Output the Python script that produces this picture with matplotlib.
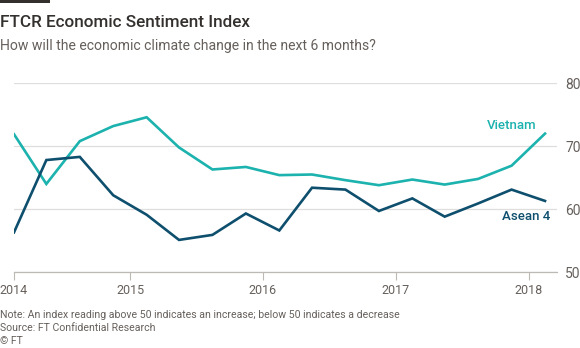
import matplotlib
matplotlib.use("Agg")
import matplotlib.pyplot as plt
import pandas as pd

plt.rcParams['font.family'] = ['Roboto', 'DejaVu Sans']

dates = pd.date_range("2014-02-15", periods=17, freq=pd.DateOffset(months=3))
vietnam = [71.9, 64.0, 70.8, 73.2, 74.6, 69.8, 66.3, 66.7, 65.4, 65.5, 64.6, 63.8, 64.7, 63.9, 64.8, 66.9, 72.0]
asean4 = [56.3, 67.8, 68.3, 62.2, 59.1, 55.1, 55.9, 59.3, 56.6, 63.4, 63.1, 59.7, 61.7, 58.8, 60.9, 63.1, 61.3]
year_labels = ["2014", "2015", "2016", "2017", "2018"]
y_ticks = [50, 60, 70, 80]

title = "FTCR Economic Sentiment Index"
subtitle = "How will the economic climate change in the next 6 months?"
note = "Note: An index reading above 50 indicates an increase; below 50 indicates a decrease"
source = "Source: FT Confidential Research"
copyright_txt = "\u00a9 FT"

c_viet = "#1cb2ae"
c_asean = "#0e4f6e"
c_text = "#66605c"
c_grid = "#e0dedc"

fig = plt.figure(figsize=(5.8, 3.48), dpi=100)
fig.patch.set_facecolor("white")
ax = fig.add_axes([14/580, 76/348, (557-14)/580, (272-83.3)/348])

ax.plot(dates, vietnam, color=c_viet, lw=1.9, solid_joinstyle="miter")
ax.plot(dates, asean4, color=c_asean, lw=1.9, solid_joinstyle="miter")

x0 = dates[0]
x1 = pd.Timestamp("2018-03-20")
ax.set_xlim(x0, x1)
ax.set_ylim(50, 80)

tick_dates = [dates[0]] + [pd.Timestamp(f"{y}-01-01") for y in year_labels[1:]]
ax.set_xticks(tick_dates)
ax.set_xticklabels(year_labels)
ax.set_yticks(y_ticks)
ax.yaxis.tick_right()
ax.tick_params(axis="y", length=0, pad=6, labelsize=10, labelcolor=c_text)
ax.tick_params(axis="x", length=6, width=0.8, color="#bdbab6", pad=3, labelsize=9, labelcolor=c_text)

ax.grid(axis="y", color=c_grid, lw=0.9)
ax.set_axisbelow(True)
for s in ["top", "right", "left"]:
    ax.spines[s].set_visible(False)
ax.spines["bottom"].set_color("#bdbab6")
ax.spines["bottom"].set_linewidth(0.9)

ax.text(pd.Timestamp("2018-01-22"), 72.3, "Vietnam", color=c_viet, fontsize=9.5, fontweight="medium",
        ha="right", va="bottom")
ax.text(pd.Timestamp("2018-03-01"), 59.8, "Asean 4", color=c_asean, fontsize=9.5, fontweight="medium",
        ha="right", va="top")

fig.add_artist(plt.Rectangle((0, 1 - 3/348), 50/580, 3/348, transform=fig.transFigure,
                             color="#33302e", lw=0))
fig.text(0, 1 - 27/348, title, fontsize=12.3, fontweight="medium", color="#33302e", ha="left", va="baseline")
fig.text(0, 1 - 50/348, subtitle, fontsize=10.1, color=c_text, ha="left", va="baseline")
fig.text(0, 1 - 318/348, note, fontsize=7.6, color=c_text, ha="left", va="baseline")
fig.text(0, 1 - 331/348, source, fontsize=7.6, color=c_text, ha="left", va="baseline")
fig.text(0, 1 - 344/348, copyright_txt, fontsize=7.6, color=c_text, ha="left", va="baseline")

fig.savefig("out.png", dpi=100, facecolor="white")
